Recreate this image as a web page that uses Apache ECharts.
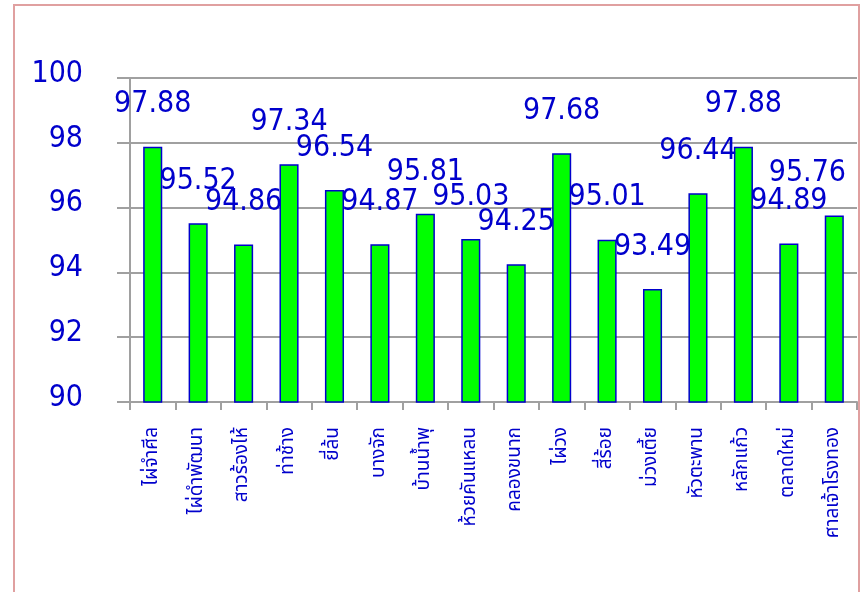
<!DOCTYPE html>
<html>
<head>
<meta charset="utf-8">
<script src="https://cdn.jsdelivr.net/npm/echarts@6/dist/echarts.min.js"></script>
<style>
html,body{margin:0;padding:0;background:#fff;}
#c{width:862px;height:592px;}
</style>
</head>
<body>
<div id="c"></div>
<script>
const categories = ['ไผ่จำศีล','ไผ่ดำพัฒนา','สาวร้องไห้','ท่าช้าง','ยี่ล้น','บางจัก','บ้านน้ำพุ','ห้วยคันแหลน','คลองขนาก','ไผ่วง','สี่ร้อย','ม่วงเตี้ย','หัวตะพาน','หลักแก้ว','ตลาดใหม่','ศาลเจ้าโรงทอง'];
const values = [97.88, 95.52, 94.86, 97.34, 96.54, 94.87, 95.81, 95.03, 94.25, 97.68, 95.01, 93.49, 96.44, 97.88, 94.89, 95.76];
const yMin = 90, yMax = 100, yStep = 2;

const numFont = "'DejaVu Sans Condensed', 'DejaVu Sans', sans-serif";
const thaiFont = "Tahoma, 'Noto Sans Thai', 'Noto Sans', sans-serif";
const blue = '#0000cc';
const gray = '#a0a0a0';
const W = 862;
const labelRightLimit = W - 16;

const chart = echarts.init(document.getElementById('c'), null, {renderer: 'canvas'});
chart.setOption({
  animation: false,
  backgroundColor: '#ffffff',
  graphic: [{
    type: 'rect', shape: {x: 14, y: 5, width: 845, height: 600},
    style: {fill: 'none', stroke: '#e0a0a0', lineWidth: 2}, silent: true, z: 100
  }],
  grid: {left: 130, right: 5, top: 78, bottom: 190, containLabel: false},
  xAxis: {
    type: 'category',
    data: categories,
    boundaryGap: true,
    axisLine: {show: true, lineStyle: {color: gray, width: 2}},
    axisTick: {show: true, alignWithLabel: false, length: 8, lineStyle: {color: gray, width: 2}},
    axisLabel: {rotate: 90, interval: 0, margin: 25, color: blue, fontSize: 19, fontFamily: thaiFont}
  },
  yAxis: {
    type: 'value',
    min: yMin, max: yMax, interval: yStep,
    axisLine: {show: true, lineStyle: {color: gray, width: 2}},
    axisTick: {show: true, length: 13, lineStyle: {color: gray, width: 2}},
    splitLine: {show: true, lineStyle: {color: gray, width: 2}},
    axisLabel: {margin: 47, color: blue, fontSize: 30, fontFamily: numFont,
      verticalAlign: 'bottom', lineHeight: 8}
  },
  series: [{
    type: 'bar',
    data: values,
    barWidth: '42%',
    itemStyle: {color: '#00ff00', borderColor: blue, borderWidth: 1.5},
    label: {show: true, position: 'top', distance: 27, color: blue, fontSize: 30, fontFamily: numFont,
      formatter: p => p.value.toFixed(2)},
    labelLayout: function (p) {
      const r = p.labelRect;
      const over = r.x + r.width - labelRightLimit;
      if (over > 0) {
        return {x: r.x - over, y: r.y, align: 'left', verticalAlign: 'top'};
      }
      return {};
    }
  }]
});
</script>
</body>
</html>
